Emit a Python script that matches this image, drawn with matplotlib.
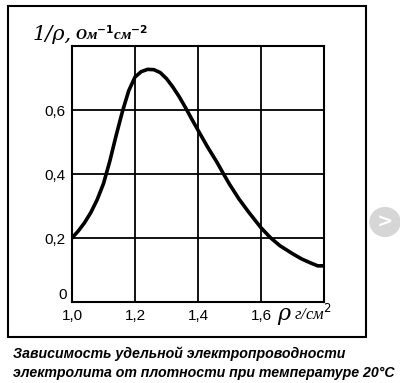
import matplotlib.pyplot as plt
from matplotlib.patches import Rectangle, Circle

# плотность электролита, г/см3
density = [1.00, 1.02, 1.04, 1.06, 1.08, 1.10, 1.12, 1.14, 1.16, 1.18, 1.20,
           1.22, 1.24, 1.26, 1.28, 1.30, 1.32, 1.34, 1.36, 1.38, 1.40, 1.43,
           1.46, 1.48, 1.50, 1.53, 1.56, 1.60, 1.63, 1.66, 1.70, 1.73, 1.76,
           1.78, 1.80]
# удельная электропроводность 1/rho
conductivity = [0.200, 0.222, 0.248, 0.280, 0.320, 0.370, 0.440, 0.520, 0.595,
                0.660, 0.703, 0.720, 0.727, 0.726, 0.717, 0.698, 0.672, 0.642,
                0.608, 0.572, 0.537, 0.485, 0.437, 0.402, 0.368, 0.322, 0.282,
                0.232, 0.201, 0.176, 0.151, 0.134, 0.121, 0.113, 0.113]

x_ticks = [1.0, 1.2, 1.4, 1.6]
x_labels = ["1,0", "1,2", "1,4", "1,6"]
y_ticks = [0.2, 0.4, 0.6]
y_labels = ["0,2", "0,4", "0,6"]

W, H = 400, 383
fig = plt.figure(figsize=(W / 100, H / 100), dpi=100)
ax = fig.add_axes([72 / W, 1 - 302 / H, 252 / W, 256 / H])

ax.plot(density, conductivity, color="black", lw=2.6,
        solid_capstyle="round", solid_joinstyle="round")
ax.set_xlim(1.0, 1.8)
ax.set_ylim(0, 0.8)

# сетка
for xv in x_ticks[1:]:
    ax.axvline(xv, color="black", lw=1.3)
for yv in y_ticks:
    ax.axhline(yv, color="black", lw=1.3)
for s in ax.spines.values():
    s.set_linewidth(1.5)

ax.set_xticks(x_ticks)
ax.set_xticklabels(x_labels)
ax.set_yticks(y_ticks)
ax.set_yticklabels(y_labels)
ax.tick_params(length=0, labelsize=11, pad=5)
for t in ax.get_xticklabels() + ax.get_yticklabels():
    t.set_family("Liberation Sans")
ax.text(-0.02, 0.0, "0", transform=ax.transAxes, ha="right", va="bottom",
        fontsize=11, family="Liberation Sans")

# подписи осей
fig.text(33 / W, 1 - 40 / H, "1/ρ,", fontsize=15, style="italic",
         family="DejaVu Serif", ha="left", va="baseline")
fig.text(75 / W, 1 - 40 / H, "Ом$^{\\mathbf{-1}}$см$^{\\mathbf{-2}}$",
         fontsize=11, style="italic", weight="bold",
         family="Liberation Serif", ha="left", va="baseline")
fig.text(277 / W, 1 - 320 / H, "ρ", fontsize=16, style="italic",
         family="DejaVu Serif", ha="left", va="baseline")
fig.text(294 / W, 1 - 320 / H, "г/см$^2$", fontsize=12, style="italic",
         family="Liberation Serif", ha="left", va="baseline")

# рамка рисунка
fig.patches.append(Rectangle((8 / W, 1 - 337 / H), 358 / W, 331 / H,
                             transform=fig.transFigure, fill=False,
                             lw=1.5, ec="black"))

# подпись
caption = ["Зависимость удельной электропроводности",
           "электролита от плотности при температуре 20°C"]
for i, line in enumerate(caption):
    fig.text(13 / W, 1 - (358 + 19 * i) / H, line, fontsize=10.2,
             style="italic", weight="bold", family="Liberation Sans",
             ha="left", va="baseline")

# кнопка листания
fig.patches.append(Circle((385 / W, 1 - 222 / H), 15 / W,
                          transform=fig.transFigure, color="#d6d6d6"))
fig.text(385 / W, 1 - 222 / H, ">", color="white", fontsize=14,
         ha="center", va="center", weight="bold")

fig.savefig("out.png", dpi=100)
